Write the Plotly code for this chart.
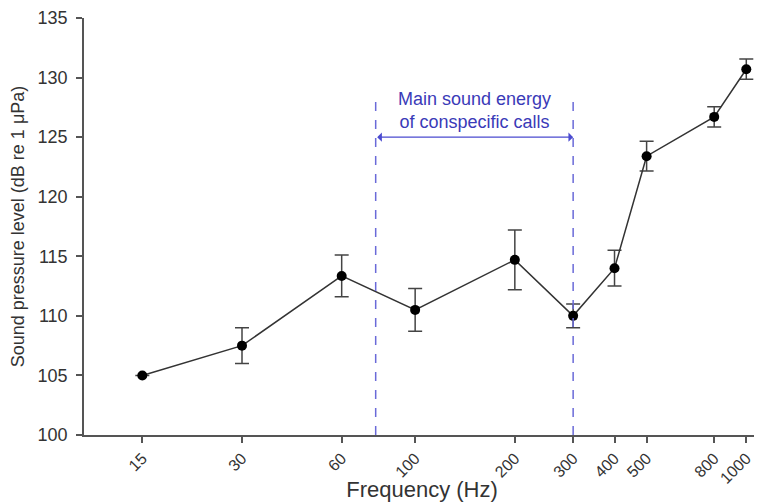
import numpy as np
import plotly.graph_objects as go

freq = [15, 30, 60, 100, 200, 300, 400, 500, 800, 1000]
spl = [105.0, 107.5, 113.35, 110.5, 114.7, 110.0, 114.0, 123.4, 126.7, 130.7]
err = [0.0, 1.5, 1.75, 1.8, 2.5, 1.0, 1.5, 1.25, 0.85, 0.85]
tick_labels = ["15", "30", "60", "100", "200", "300", "400", "500", "800", "1000"]
band = [76, 300]
band_top = 128.5
arrow_y = 125.0
label_y = 127.2
label_text = "Main sound energy<br>of conspecific calls"

blue = "#4b4bd0"

fig = go.Figure()
fig.add_trace(go.Scatter(
    x=freq, y=spl, mode="lines+markers",
    line=dict(color="#333333", width=1.5),
    marker=dict(color="black", size=10),
    error_y=dict(type="data", array=err, visible=True, color="#444444", thickness=1.5, width=7),
    showlegend=False,
))

for b in band:
    fig.add_shape(type="line", xref="x", yref="y", x0=b, x1=b, y0=100, y1=band_top,
                  line=dict(color="#6a6ad8", width=1.5, dash="dash"))

fig.add_annotation(x=np.log10(band[1]), y=arrow_y, ax=np.log10(band[0]), ay=arrow_y,
                   xref="x", yref="y", axref="x", ayref="y", text="", showarrow=True,
                   arrowhead=1, startarrowhead=1, arrowside="end+start", arrowsize=1.3,
                   startarrowsize=1.3, arrowwidth=1.2, arrowcolor=blue)
fig.add_annotation(x=np.log10(np.sqrt(band[0] * band[1])), y=label_y, xref="x", yref="y",
                   text=label_text, showarrow=False,
                   font=dict(family="Liberation Sans, Arial", size=18, color="#3a3ab8"))

fig.update_xaxes(type="log", range=[np.log10(10), np.log10(1100)], automargin=False,
                 tickvals=freq, ticktext=tick_labels, tickangle=-45,
                 ticks="outside", ticklen=6, tickwidth=1.5, tickcolor="#555555",
                 showline=True, linecolor="#555555", linewidth=1.5, showgrid=False, zeroline=False,
                 tickfont=dict(size=16, color="#333333"),
                 title=dict(text="Frequency (Hz)", font=dict(size=22, color="#333333")))
fig.update_yaxes(range=[100, 135], tickvals=list(range(100, 136, 5)), automargin=False,
                 ticks="outside", ticklen=6, tickwidth=1.5, tickcolor="#555555",
                 showline=True, linecolor="#555555", linewidth=1.5, showgrid=False, zeroline=False,
                 tickfont=dict(size=18, color="#333333"), ticklabelstandoff=5,
                 title=dict(text="Sound pressure level (dB re 1 \u03bcPa)", font=dict(size=18, color="#333333")))

fig.update_layout(width=754, height=494, margin=dict(l=76, r=2, t=10, b=67),
                  plot_bgcolor="white", paper_bgcolor="white",
                  font=dict(family="Liberation Sans, Arial"))
fig.write_html("out.html")
